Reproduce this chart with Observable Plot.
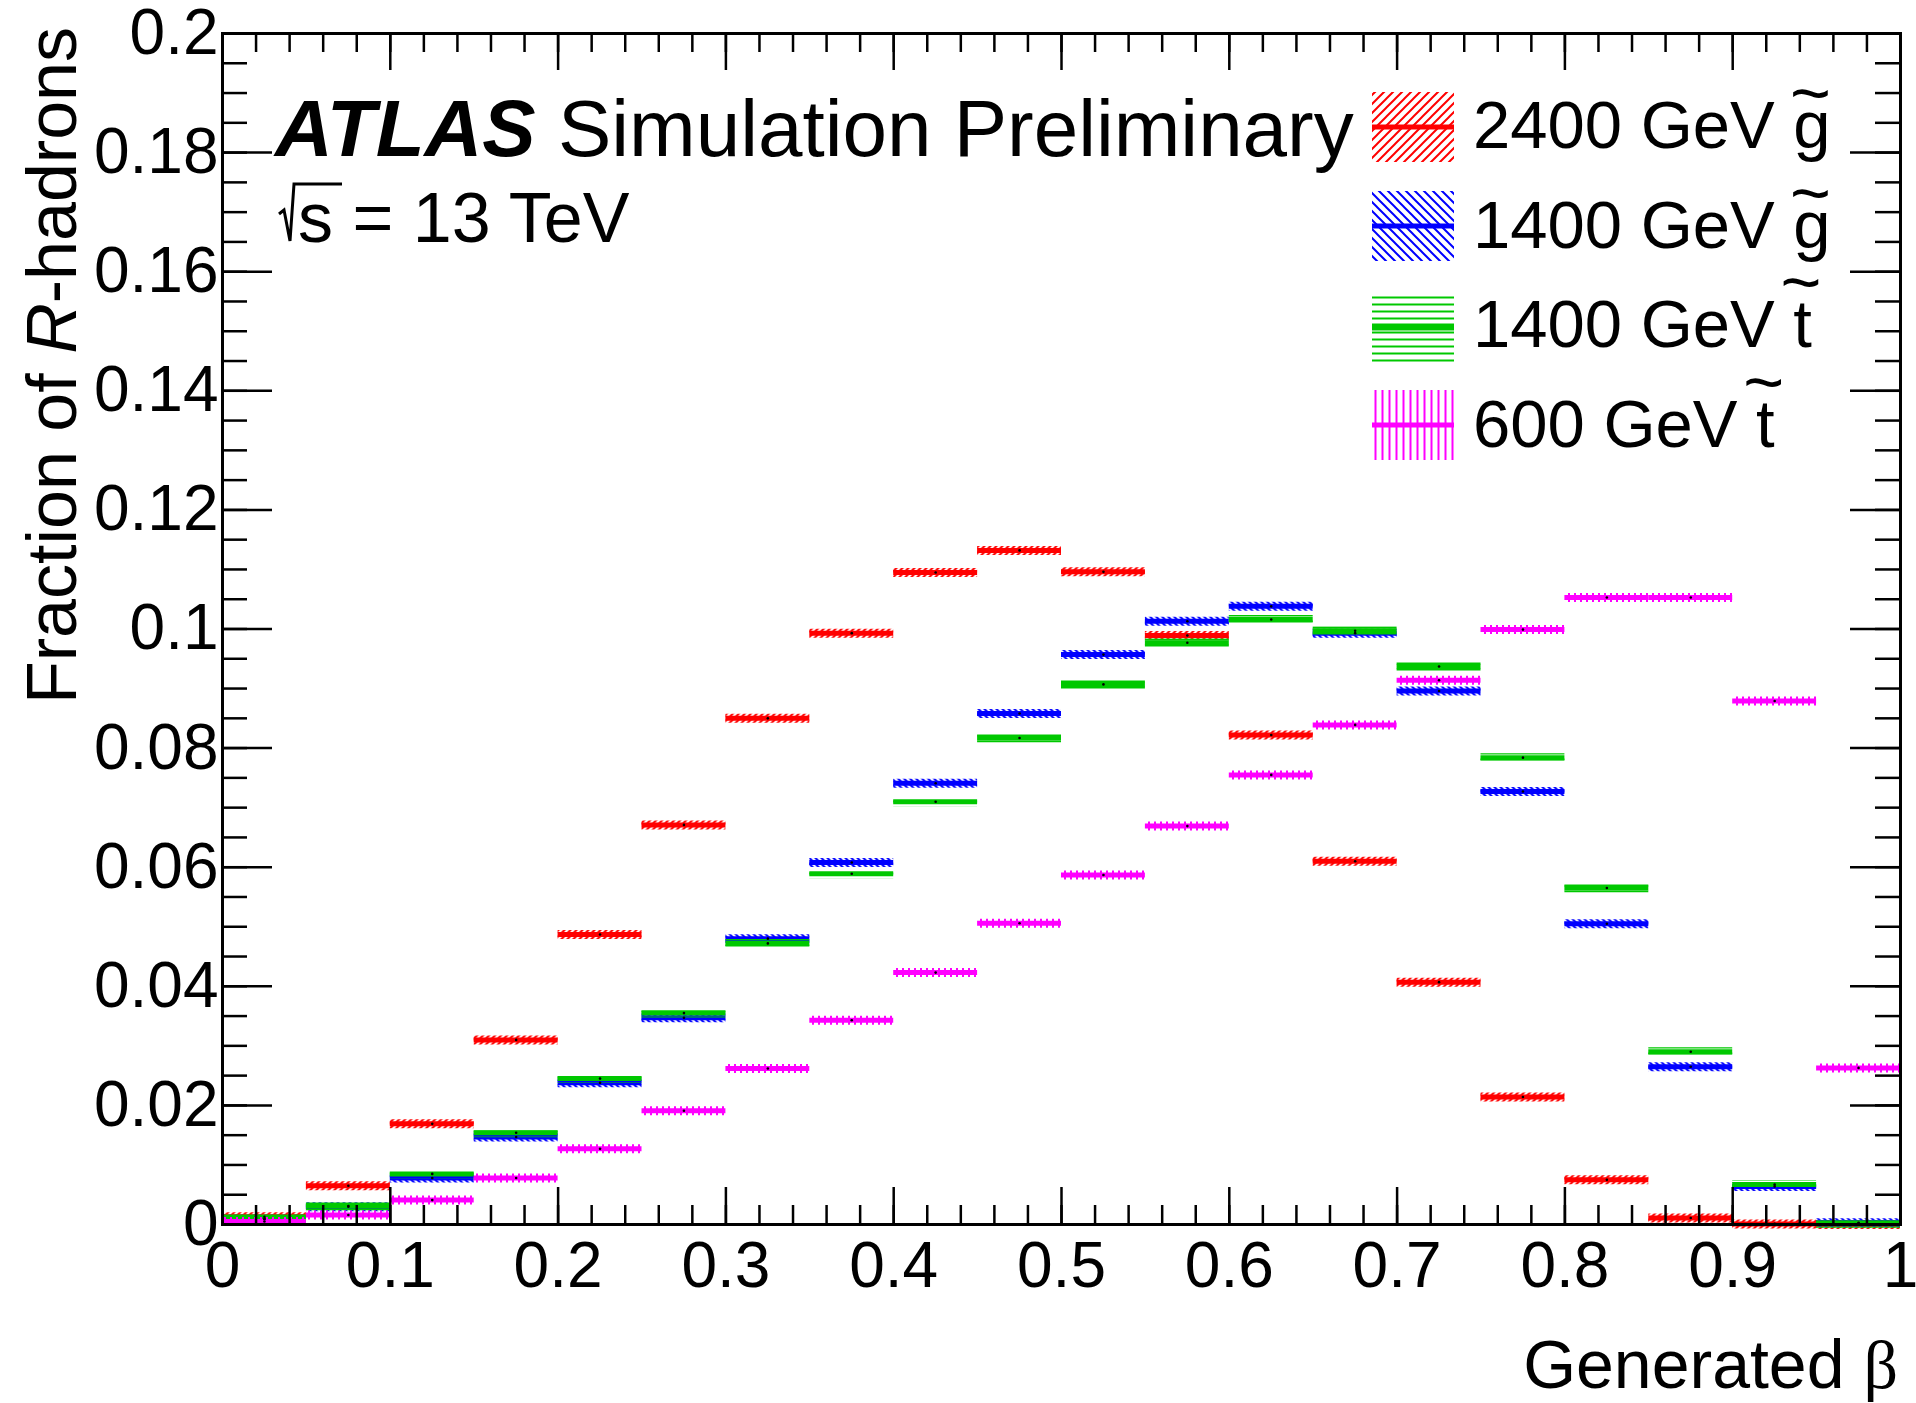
<!DOCTYPE html>
<html>
<head>
<meta charset="utf-8">
<script src="https://cdn.jsdelivr.net/npm/d3@7"></script>
<script src="https://cdn.jsdelivr.net/npm/@observablehq/plot@0.6"></script>
<style>
  html, body { margin: 0; padding: 0; background: #fff; }
  #chart { width: 1916px; height: 1403px; }
</style>
</head>
<body>
<div id="chart"></div>
<script>
// ---------------- data ----------------
const binEdges = [0, 0.05, 0.1, 0.15, 0.2, 0.25, 0.3, 0.35, 0.4, 0.45, 0.5,
                  0.55, 0.6, 0.65, 0.7, 0.75, 0.8, 0.85, 0.9, 0.95, 1.0];
const gluino2400 = [0.0013, 0.0065, 0.0169, 0.0310, 0.0487, 0.0671, 0.0850, 0.0993, 0.1095, 0.1132,
                    0.1096, 0.0989, 0.0822, 0.0610, 0.0407, 0.0214, 0.0075, 0.0011, 0.0001, 0.0000];
const gluino1400 = [0.0009, 0.0030, 0.0078, 0.0147, 0.0238, 0.0347, 0.0480, 0.0608, 0.0741, 0.0858,
                    0.0957, 0.1013, 0.1038, 0.0993, 0.0896, 0.0727, 0.0505, 0.0265, 0.0064, 0.0003];
const stop1400   = [0.0010, 0.0031, 0.0085, 0.0154, 0.0245, 0.0355, 0.0472, 0.0589, 0.0710, 0.0817,
                    0.0907, 0.0977, 0.1016, 0.0997, 0.0937, 0.0784, 0.0565, 0.0290, 0.0067, 0.0002];
const stop600    = [0.0005, 0.0016, 0.0041, 0.0078, 0.0127, 0.0191, 0.0262, 0.0343, 0.0423, 0.0506,
                    0.0587, 0.0669, 0.0755, 0.0839, 0.0914, 0.0999, 0.1053, 0.1053, 0.0879, 0.0263];

const seriesMass   = ["2400 GeV", "1400 GeV", "1400 GeV", "600 GeV"];
const seriesSparticle = ["g", "g", "t", "t"];
const seriesValues = [gluino2400, gluino1400, stop1400, stop600];
const seriesColors = ["#ff0000", "#0000ff", "#00c800", "#ff00ff"];

const xTicks = [0, 0.1, 0.2, 0.3, 0.4, 0.5, 0.6, 0.7, 0.8, 0.9, 1];
const xTickLabels = ["0", "0.1", "0.2", "0.3", "0.4", "0.5", "0.6", "0.7", "0.8", "0.9", "1"];
const yTicks = [0, 0.02, 0.04, 0.06, 0.08, 0.1, 0.12, 0.14, 0.16, 0.18, 0.2];
const yTickLabels = ["0", "0.02", "0.04", "0.06", "0.08", "0.1", "0.12", "0.14", "0.16", "0.18", "0.2"];
const xMinor = d3.range(0, 51).map(i => i / 50);
const yMinor = d3.range(0, 41).map(i => i / 200);

const rows = seriesValues.flatMap((vals, k) =>
  vals.map((v, i) => ({k, x1: binEdges[i], x2: binEdges[i + 1], v})));

// ---------------- layout ----------------
const W = 1916, H = 1403;
const mL = 222, mR = 16, mT = 33, mB = 179;
const fw = W - mL - mR, fh = H - mT - mB;
const FONT = "'Liberation Sans', Arial, Helvetica, sans-serif";

const seriesMarks = seriesColors.flatMap((c, k) => {
  const d = rows.filter(r => r.k === k);
  return [
    Plot.ruleY(d, {x1: "x1", x2: "x2", y: "v", stroke: `url(#hatch${k})`, strokeWidth: 9}),
    Plot.ruleY(d, {x1: "x1", x2: "x2", y: "v", stroke: c, strokeWidth: 5})
  ];
});

const chart = Plot.plot({
  width: W, height: H,
  marginLeft: mL, marginRight: mR, marginTop: mT, marginBottom: mB,
  x: {domain: [0, 1]},
  y: {domain: [0, 0.2]},
  style: {fontFamily: FONT, fontSize: "64px", color: "#000", background: "#fff", overflow: "visible"},
  marks: [
    ...seriesMarks,
    Plot.dot(rows, {x: d => (d.x1 + d.x2) / 2, y: "v", r: 1.3, fill: "#000"}),
    // inward ticks (ROOT style), bottom & top
    Plot.tickX(xTicks, {x: d => d, insetTop: fh - 37, stroke: "#000", strokeWidth: 2.5}),
    Plot.tickX(xMinor, {x: d => d, insetTop: fh - 19, stroke: "#000", strokeWidth: 2.5}),
    Plot.tickX(xTicks, {x: d => d, insetBottom: fh - 37, stroke: "#000", strokeWidth: 2.5}),
    Plot.tickX(xMinor, {x: d => d, insetBottom: fh - 19, stroke: "#000", strokeWidth: 2.5}),
    // inward ticks left & right
    Plot.tickY(yTicks, {y: d => d, insetRight: fw - 50, stroke: "#000", strokeWidth: 2.5}),
    Plot.tickY(yMinor, {y: d => d, insetRight: fw - 25, stroke: "#000", strokeWidth: 2.5}),
    Plot.tickY(yTicks, {y: d => d, insetLeft: fw - 50, stroke: "#000", strokeWidth: 2.5}),
    Plot.tickY(yMinor, {y: d => d, insetLeft: fw - 25, stroke: "#000", strokeWidth: 2.5}),
    Plot.axisX({ticks: xTicks, tickFormat: d => xTickLabels[xTicks.indexOf(d)],
                tickSize: 0, tickPadding: 17, fontSize: 64, label: null}),
    Plot.axisY({ticks: yTicks, tickFormat: d => yTickLabels[yTicks.indexOf(d)],
                tickSize: 0, tickPadding: 4, fontSize: 64, label: null}),
    Plot.frame({stroke: "#000", strokeWidth: 3})
  ]
});

document.getElementById("chart").appendChild(chart);

// ---------------- patterns, titles, labels, legend ----------------
const svg = d3.select(chart);
const defs = svg.insert("defs", ":first-child");
function hatch(id, color, kind, s) {
  const p = defs.append("pattern").attr("id", id).attr("patternUnits", "userSpaceOnUse")
    .attr("width", s).attr("height", s);
  let d;
  if (kind === "fwd") d = `M0,${s} L${s},0 M${-s/4},${s/4} L${s/4},${-s/4} M${3*s/4},${5*s/4} L${5*s/4},${3*s/4}`;
  else if (kind === "back") d = `M0,0 L${s},${s} M${-s/4},${3*s/4} L${s/4},${5*s/4} M${3*s/4},${-s/4} L${5*s/4},${s/4}`;
  else if (kind === "horiz") d = `M0,${s/2} L${s},${s/2}`;
  else d = `M${s/2},0 L${s/2},${s}`;
  p.append("path").attr("d", d).attr("stroke", color).attr("stroke-width", 2).attr("fill", "none");
}
const kinds = ["fwd", "back", "horiz", "vert"];
seriesColors.forEach((c, k) => {
  hatch(`hatch${k}`, c, kinds[k], 6);
  hatch(`lhatch${k}`, c, kinds[k], k >= 2 ? 7 : 9);
});

const ann = svg.append("g").attr("text-anchor", "start").attr("font-family", FONT).attr("fill", "#000");

// y title
const yt = ann.append("text").attr("transform", "translate(76,27) rotate(-90)")
  .attr("text-anchor", "end").attr("font-size", 70);
yt.append("tspan").text("Fraction of ");
yt.append("tspan").attr("font-style", "italic").text("R");
yt.append("tspan").text("-hadrons");

// x title
const xt = ann.append("text").attr("x", 1898).attr("y", 1388)
  .attr("text-anchor", "end").attr("font-size", 68);
xt.append("tspan").text("Generated ");
xt.append("tspan").attr("font-family", "'Liberation Serif', 'DejaVu Serif', serif").text("β");

// ATLAS label
const at = ann.append("text").attr("x", 275).attr("y", 156).attr("font-size", 80);
at.append("tspan").attr("font-weight", "bold").attr("font-style", "italic").text("ATLAS");
at.append("tspan").text(" Simulation Preliminary");

// sqrt(s) = 13 TeV : radical drawn as a path, text after it
ann.append("path")
  .attr("d", "M279,214 L284,210 L290,241 L294,184 L342,184")
  .attr("fill", "none").attr("stroke", "#000").attr("stroke-width", 3)
  .attr("stroke-linejoin", "miter");
ann.append("text").attr("x", 298).attr("y", 242).attr("font-size", 70).text("s = 13 TeV");

// legend
const legCenters = [127, 226, 327, 425];
const legBase = [148, 248, 347, 447];
seriesColors.forEach((c, k) => {
  const g = ann.append("g");
  g.append("rect").attr("x", 1372).attr("y", legCenters[k] - 35).attr("width", 82).attr("height", 70)
    .attr("fill", `url(#lhatch${k})`);
  g.append("line").attr("x1", 1372).attr("x2", 1454).attr("y1", legCenters[k]).attr("y2", legCenters[k])
    .attr("stroke", c).attr("stroke-width", k === 2 ? 7 : 5);
  const t = g.append("text").attr("x", 1473).attr("y", legBase[k]).attr("font-size", 67);
  t.append("tspan").text(seriesMass[k] + " ");
  const sp = seriesSparticle[k];
  t.append("tspan").text(sp);
  if (sp === "g") {
    t.append("tspan").attr("dx", "-0.58em").attr("dy", "-0.45em").attr("font-size", 70).text("~");
  } else {
    t.append("tspan").attr("dx", "-0.45em").attr("dy", "-0.58em").attr("font-size", 70).text("~");
  }
});
</script>
</body>
</html>
